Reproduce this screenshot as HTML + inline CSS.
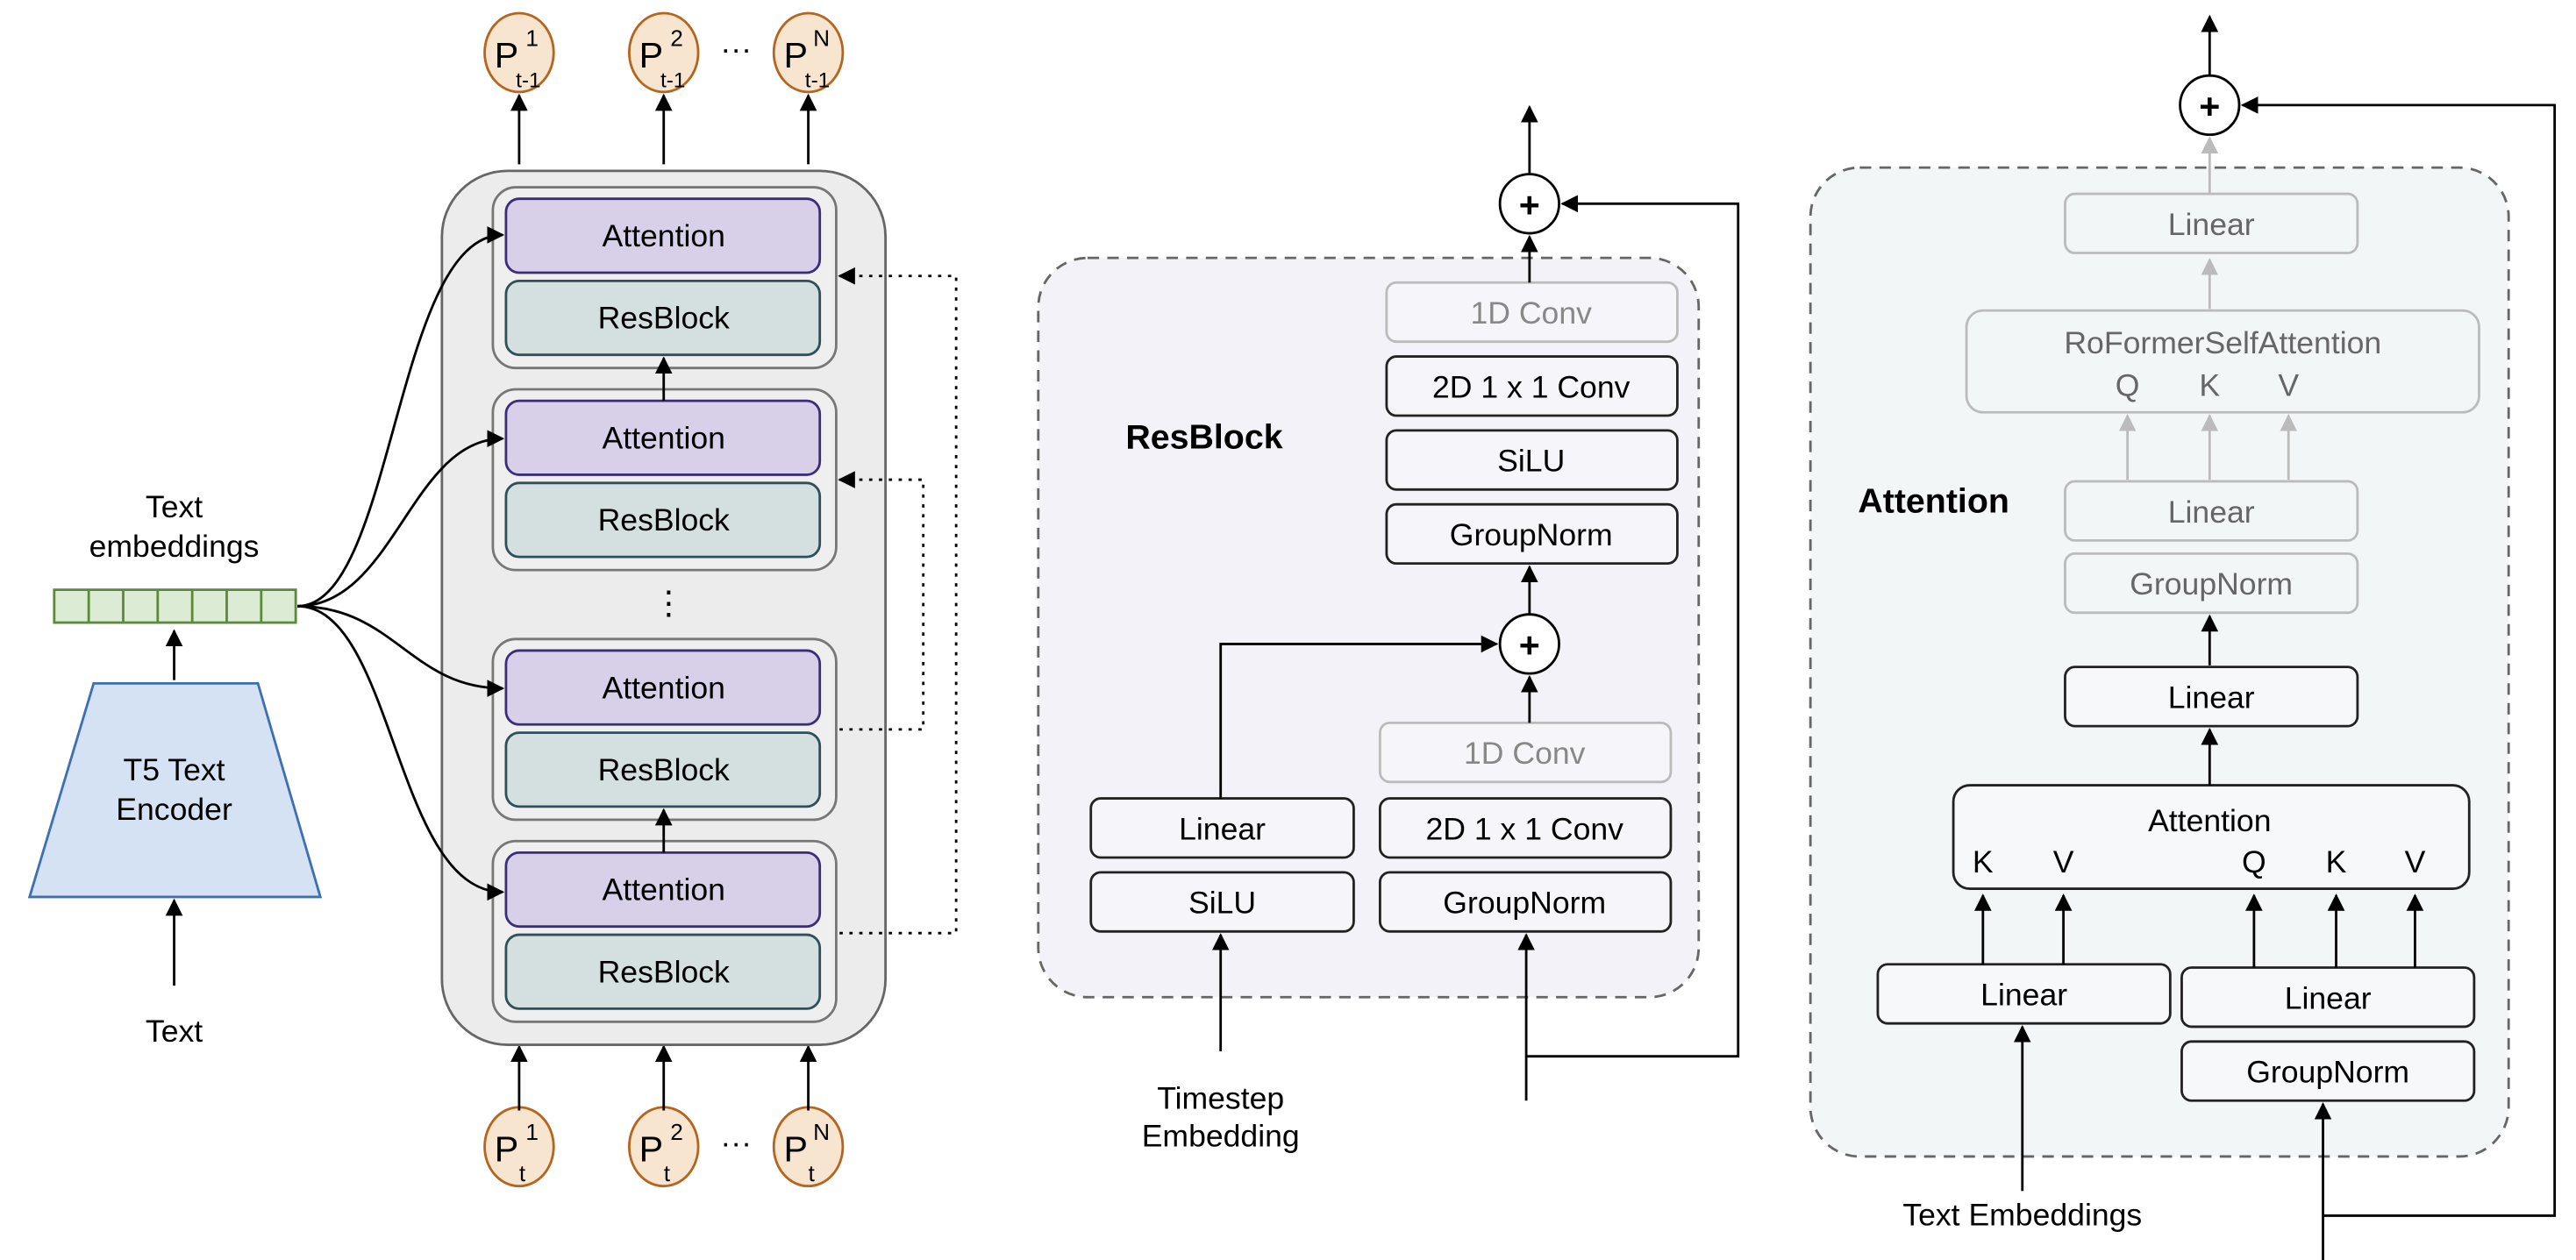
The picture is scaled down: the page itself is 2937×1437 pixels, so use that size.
<!DOCTYPE html>
<html><head><meta charset="utf-8"><style>
html,body{margin:0;padding:0;background:#fff;}
svg{display:block;}
text{font-family:"Liberation Sans",sans-serif;}
</style></head><body>
<svg width="2937" height="1437" viewBox="0 0 1568 767" preserveAspectRatio="none" xmlns="http://www.w3.org/2000/svg">
<defs>
<marker id="a" viewBox="0 0 10 10" refX="9" refY="5" markerWidth="7" markerHeight="7" orient="auto-start-reverse"><path d="M0,0L10,5L0,10z" fill="#000"/></marker>
<marker id="g" viewBox="0 0 10 10" refX="9" refY="5" markerWidth="7" markerHeight="7" orient="auto-start-reverse"><path d="M0,0L10,5L0,10z" fill="#bbb"/></marker>
</defs>
<g font-size="19" text-anchor="middle">
<!-- LEFT PANEL -->
<g fill="#f8e5cf" stroke="#b5651d" stroke-width="1.5">
<ellipse cx="316" cy="32" rx="21" ry="24"/><ellipse cx="404" cy="32" rx="21" ry="24"/><ellipse cx="492" cy="32" rx="21" ry="24"/>
<ellipse cx="316" cy="698" rx="21" ry="24"/><ellipse cx="404" cy="698" rx="21" ry="24"/><ellipse cx="492" cy="698" rx="21" ry="24"/>
</g>
<g font-size="22" text-anchor="start">
<text x="301" y="41">P</text><text x="314" y="53" font-size="13">t-1</text><text x="320" y="28" font-size="14">1</text>
<text x="389" y="41">P</text><text x="402" y="53" font-size="13">t-1</text><text x="408" y="28" font-size="14">2</text>
<text x="477" y="41">P</text><text x="490" y="53" font-size="13">t-1</text><text x="495" y="28" font-size="14">N</text>
<text x="301" y="707">P</text><text x="316" y="719" font-size="14">t</text><text x="320" y="694" font-size="14">1</text>
<text x="389" y="707">P</text><text x="404" y="719" font-size="14">t</text><text x="408" y="694" font-size="14">2</text>
<text x="477" y="707">P</text><text x="492" y="719" font-size="14">t</text><text x="495" y="694" font-size="14">N</text>
</g>
<text x="448" y="36">···</text><text x="448" y="702">···</text>
<g stroke="#000" stroke-width="1.5" fill="none" marker-end="url(#a)">
<line x1="316" y1="100" x2="316" y2="58"/><line x1="404" y1="100" x2="404" y2="58"/><line x1="492" y1="100" x2="492" y2="58"/>
<line x1="316" y1="676" x2="316" y2="637"/><line x1="404" y1="676" x2="404" y2="637"/><line x1="492" y1="676" x2="492" y2="637"/>
</g>
<rect x="269" y="104" width="270" height="532" rx="40" fill="#ececec" stroke="#666" stroke-width="1.5"/>
<g fill="#efefef" stroke="#777" stroke-width="1.5">
<rect x="300" y="114" width="209" height="110" rx="14"/><rect x="300" y="237" width="209" height="110" rx="14"/>
<rect x="300" y="389" width="209" height="110" rx="14"/><rect x="300" y="512" width="209" height="110" rx="14"/>
</g>
<g fill="#d8d0e8" stroke="#3b2d7a" stroke-width="1.5">
<rect x="308" y="121" width="191" height="45" rx="8"/><rect x="308" y="244" width="191" height="45" rx="8"/>
<rect x="308" y="396" width="191" height="45" rx="8"/><rect x="308" y="519" width="191" height="45" rx="8"/>
</g>
<g fill="#d4dfe0" stroke="#2f4f5a" stroke-width="1.5">
<rect x="308" y="171" width="191" height="45" rx="8"/><rect x="308" y="294" width="191" height="45" rx="8"/>
<rect x="308" y="446" width="191" height="45" rx="8"/><rect x="308" y="569" width="191" height="45" rx="8"/>
</g>
<text x="404" y="150">Attention</text><text x="404" y="200">ResBlock</text>
<text x="404" y="273">Attention</text><text x="404" y="323">ResBlock</text>
<text x="404" y="425">Attention</text><text x="404" y="475">ResBlock</text>
<text x="404" y="548">Attention</text><text x="404" y="598">ResBlock</text>
<text x="407" y="374" font-size="20">⋮</text>
<g stroke="#000" stroke-width="1.5" fill="none">
<line x1="404" y1="244" x2="404" y2="218" marker-end="url(#a)"/>
<line x1="404" y1="519" x2="404" y2="493" marker-end="url(#a)"/>
<polyline points="511,568 582,568 582,168 511,168" stroke-dasharray="2,4" marker-end="url(#a)"/>
<polyline points="511,444 562,444 562,292 511,292" stroke-dasharray="2,4" marker-end="url(#a)"/>
<path d="M181,369 C240,369 240,143 306,143" marker-end="url(#a)"/>
<path d="M181,369 C240,369 250,267 306,267" marker-end="url(#a)"/>
<path d="M181,369 C240,369 250,419 306,419" marker-end="url(#a)"/>
<path d="M181,369 C240,369 240,543 306,543" marker-end="url(#a)"/>
<line x1="106" y1="414" x2="106" y2="384" marker-end="url(#a)"/>
<line x1="106" y1="600" x2="106" y2="548" marker-end="url(#a)"/>
</g>
<text x="106" y="315">Text</text><text x="106" y="339">embeddings</text>
<rect x="33" y="359" width="147" height="20" fill="#dcebd4" stroke="#5a8a3a" stroke-width="1.5"/>
<g stroke="#5a8a3a" stroke-width="1.5">
<line x1="54" y1="359" x2="54" y2="379"/><line x1="75" y1="359" x2="75" y2="379"/><line x1="96" y1="359" x2="96" y2="379"/>
<line x1="117" y1="359" x2="117" y2="379"/><line x1="138" y1="359" x2="138" y2="379"/><line x1="159" y1="359" x2="159" y2="379"/>
</g>
<polygon points="57,416 157,416 195,546 18,546" fill="#d4e2f3" stroke="#3d6fb3" stroke-width="1.5"/>
<text x="106" y="475">T5 Text</text><text x="106" y="499">Encoder</text>
<text x="106" y="634">Text</text>

<!-- RESBLOCK PANEL -->
<rect x="632" y="157" width="402" height="450" rx="30" fill="#f3f2f8" stroke="#666" stroke-width="1.5" stroke-dasharray="7,5"/>
<text x="733" y="273" font-weight="bold" font-size="21">ResBlock</text>
<g fill="#f6f5fa" stroke="#222" stroke-width="1.5">
<rect x="844" y="217" width="177" height="36" rx="6"/><rect x="844" y="262" width="177" height="36" rx="6"/>
<rect x="844" y="307" width="177" height="36" rx="6"/><rect x="840" y="486" width="177" height="36" rx="6"/>
<rect x="840" y="531" width="177" height="36" rx="6"/><rect x="664" y="486" width="160" height="36" rx="6"/>
<rect x="664" y="531" width="160" height="36" rx="6"/>
</g>
<g fill="#f6f5fa" stroke="#bbb" stroke-width="1.5">
<rect x="844" y="172" width="177" height="36" rx="6"/><rect x="840" y="440" width="177" height="36" rx="6"/>
</g>
<g fill="#888"><text x="932" y="197">1D Conv</text><text x="928" y="465">1D Conv</text></g>
<text x="932" y="242">2D 1 x 1 Conv</text><text x="932" y="287">SiLU</text><text x="932" y="332">GroupNorm</text>
<text x="928" y="511">2D 1 x 1 Conv</text><text x="928" y="556">GroupNorm</text>
<text x="744" y="511">Linear</text><text x="744" y="556">SiLU</text>
<g fill="#fff" stroke="#000" stroke-width="1.5"><circle cx="931" cy="392" r="18"/><circle cx="931" cy="124" r="18"/><circle cx="1345" cy="64" r="18"/></g>
<g font-weight="bold" font-size="22"><text x="931" y="400">+</text><text x="931" y="132">+</text><text x="1345" y="72">+</text></g>
<g stroke="#000" stroke-width="1.5" fill="none" marker-end="url(#a)">
<line x1="743" y1="640" x2="743" y2="569"/>
<polyline points="743,486 743,392 911,392"/>
<line x1="931" y1="440" x2="931" y2="412"/>
<line x1="931" y1="374" x2="931" y2="345"/>
<line x1="931" y1="172" x2="931" y2="144"/>
<line x1="931" y1="106" x2="931" y2="65"/>
<line x1="929" y1="670" x2="929" y2="569"/>
<polyline points="929,643 1058,643 1058,124 951,124"/>
</g>
<text x="743" y="675">Timestep</text><text x="743" y="698">Embedding</text>

<!-- ATTENTION PANEL -->
<rect x="1102" y="102" width="425" height="602" rx="30" fill="#f3f6f7" stroke="#666" stroke-width="1.5" stroke-dasharray="7,5"/>
<text x="1177" y="312" font-weight="bold" font-size="21">Attention</text>
<g fill="#f3f6f7" stroke="#bbb" stroke-width="1.5">
<rect x="1257" y="118" width="178" height="36" rx="6"/><rect x="1197" y="189" width="312" height="62" rx="10"/>
<rect x="1257" y="293" width="178" height="36" rx="6"/><rect x="1257" y="337" width="178" height="36" rx="6"/>
</g>
<g fill="#666"><text x="1346" y="143">Linear</text><text x="1353" y="215">RoFormerSelfAttention</text>
<text x="1295" y="241">Q</text><text x="1345" y="241">K</text><text x="1393" y="241">V</text>
<text x="1346" y="318">Linear</text><text x="1346" y="362">GroupNorm</text></g>
<g stroke="#bbb" stroke-width="1.5" marker-end="url(#g)">
<line x1="1345" y1="118" x2="1345" y2="84"/><line x1="1345" y1="188" x2="1345" y2="158"/>
<line x1="1295" y1="292" x2="1295" y2="253"/><line x1="1345" y1="292" x2="1345" y2="253"/><line x1="1393" y1="292" x2="1393" y2="253"/>
</g>
<g fill="#f6f8f9" stroke="#222" stroke-width="1.5">
<rect x="1257" y="406" width="178" height="36" rx="6"/><rect x="1189" y="478" width="314" height="63" rx="10"/>
<rect x="1143" y="587" width="178" height="36" rx="6"/><rect x="1328" y="589" width="178" height="36" rx="6"/>
<rect x="1328" y="634" width="178" height="36" rx="6"/>
</g>
<text x="1346" y="431">Linear</text><text x="1345" y="506">Attention</text>
<text x="1207" y="531">K</text><text x="1256" y="531">V</text><text x="1372" y="531">Q</text><text x="1422" y="531">K</text><text x="1470" y="531">V</text>
<text x="1232" y="612">Linear</text><text x="1417" y="614">Linear</text><text x="1417" y="659">GroupNorm</text>
<g stroke="#000" stroke-width="1.5" fill="none" marker-end="url(#a)">
<line x1="1345" y1="46" x2="1345" y2="10"/>
<line x1="1345" y1="405" x2="1345" y2="375"/>
<line x1="1345" y1="478" x2="1345" y2="444"/>
<line x1="1207" y1="587" x2="1207" y2="545"/><line x1="1256" y1="587" x2="1256" y2="545"/>
<line x1="1372" y1="589" x2="1372" y2="545"/><line x1="1422" y1="589" x2="1422" y2="545"/><line x1="1470" y1="589" x2="1470" y2="545"/>
<line x1="1231" y1="725" x2="1231" y2="625"/>
<line x1="1414" y1="767" x2="1414" y2="672"/>
<polyline points="1414,740 1555,740 1555,64 1365,64"/>
</g>
<text x="1231" y="746">Text Embeddings</text>
</g>
</svg>
</body></html>
